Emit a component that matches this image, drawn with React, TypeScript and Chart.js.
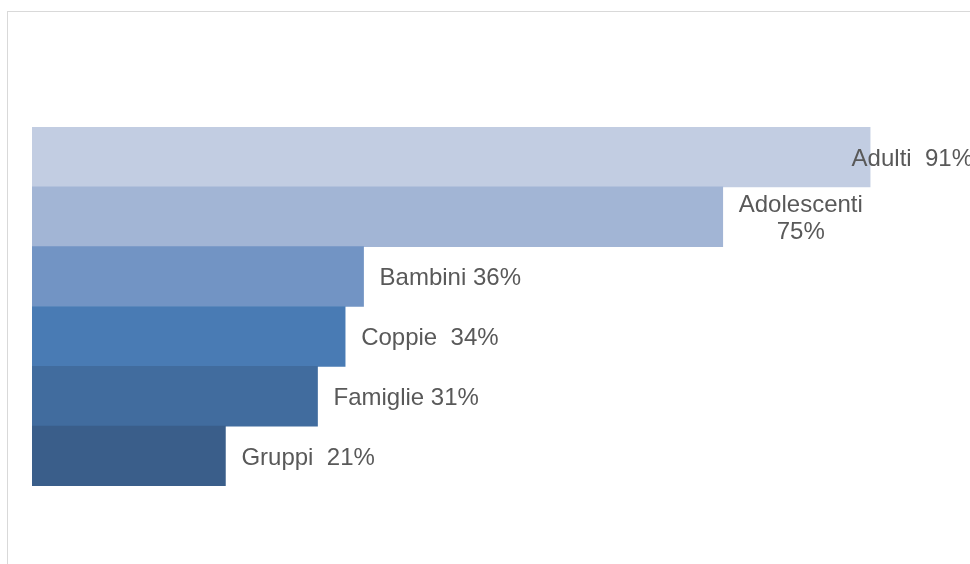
import React, { useEffect, useRef } from "react";
import { Chart, registerables } from "chart.js";

Chart.register(...registerables);

const categories = ["Adulti", "Adolescenti", "Bambini", "Coppie", "Famiglie", "Gruppi"];
const values = [91, 75, 36, 34, 31, 21];
const labelTexts = ["Adulti  91%", "Adolescenti\n75%", "Bambini 36%", "Coppie  34%", "Famiglie 31%", "Gruppi  21%"];
const barColors = ["#c2cde2", "#a2b5d5", "#7294c4", "#497bb4", "#416c9e", "#3a5e8a"];

const labelPlugin = {
  id: "barLabels",
  afterDatasetsDraw(chart: any) {
    const ctx = chart.ctx;
    const meta = chart.getDatasetMeta(0);
    ctx.save();
    ctx.font = "24px 'Liberation Sans', Arial, sans-serif";
    ctx.fillStyle = "#595959";
    ctx.textBaseline = "middle";
    meta.data.forEach((bar: any, i: number) => {
      const lines = labelTexts[i].split("\n");
      const widths = lines.map((l: string) => ctx.measureText(l).width);
      const blockW = Math.max(...widths);
      let left = bar.x + 16;
      const maxRight = chart.width + 3;
      if (left + blockW > maxRight) left = maxRight - blockW;
      const lh = 27;
      const startY = bar.y + 2 - ((lines.length - 1) * lh) / 2;
      lines.forEach((l: string, j: number) => {
        ctx.textAlign = "left";
        ctx.fillText(l, left + (blockW - widths[j]) / 2, startY + j * lh);
      });
    });
    ctx.restore();
  },
};

export default function App() {
  const ref = useRef<HTMLCanvasElement>(null);
  useEffect(() => {
    if (!ref.current) return;
    const chart = new Chart(ref.current, {
      type: "bar",
      data: {
        labels: categories,
        datasets: [
          {
            data: values,
            backgroundColor: barColors,
            borderWidth: 0,
            categoryPercentage: 1,
            barPercentage: 1,
          },
        ],
      },
      options: {
        indexAxis: "y",
        animation: false,
        responsive: false,
        maintainAspectRatio: false,
        layout: { padding: { left: 32, right: 17, top: 127, bottom: 78 } },
        plugins: { legend: { display: false }, tooltip: { enabled: false } },
        scales: {
          x: { display: false, min: 0, max: 100 },
          y: { display: false },
        },
      },
      plugins: [labelPlugin],
    });
    return () => chart.destroy();
  }, []);
  return (
    <div style={{ position: "fixed", left: 0, top: 0, width: 970, height: 564, overflow: "hidden", background: "#fff" }}>
      <div
        style={{
          position: "absolute",
          left: 7,
          top: 11,
          width: 980,
          height: 600,
          borderTop: "1px solid #d9d9d9",
          borderLeft: "1px solid #d9d9d9",
          boxSizing: "border-box",
        }}
      />
      <canvas ref={ref} width={970} height={564} style={{ position: "absolute", left: 0, top: 0, width: 970, height: 564 }} />
    </div>
  );
}
